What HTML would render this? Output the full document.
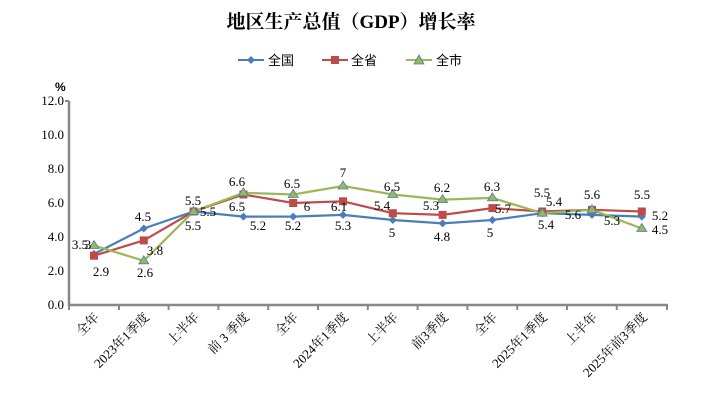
<!DOCTYPE html>
<html><head><meta charset="utf-8"><style>
html,body{margin:0;padding:0;background:#fff;}
svg{display:block;font-family:"Liberation Serif","Noto Serif CJK SC",serif;}
</style></head><body>
<svg width="702" height="409" viewBox="0 0 702 409" xmlns="http://www.w3.org/2000/svg">
<text x="351" y="28" text-anchor="middle" font-size="19" font-weight="bold" font-family="'Liberation Serif','Noto Serif CJK SC',serif">地区生产总值（GDP）增长率</text>
<g font-size="13" font-family="'Liberation Sans','Noto Sans CJK SC',sans-serif">
<line x1="238" y1="60" x2="264" y2="60" stroke="#4a7ebb" stroke-width="2"/><path d="M251 56 L255 60 L251 64 L247 60Z" fill="#4a7ebb"/>
<text x="268" y="65">全国</text>
<line x1="322" y1="60" x2="348" y2="60" stroke="#be4b48" stroke-width="2"/><rect x="331" y="56" width="8" height="8" fill="#be4b48"/>
<text x="351" y="65">全省</text>
<line x1="406" y1="60" x2="432" y2="60" stroke="#98b954" stroke-width="2"/><path d="M419 55 L424 64 L414 64Z" fill="#98b954" stroke="#4a7ebb" stroke-width="0.8"/>
<text x="436" y="65">全市</text>
</g>
<text x="55" y="91" font-size="12" font-weight="bold" font-family="'Liberation Sans',sans-serif">%</text>
<g stroke="#888" stroke-width="2.5">
<line x1="69" y1="101" x2="69" y2="306"/>
<line x1="68" y1="305" x2="668" y2="305"/>
</g>
<g stroke="#888" stroke-width="2">
<line x1="69" y1="305" x2="69" y2="310"/><line x1="119" y1="305" x2="119" y2="310"/><line x1="168.6" y1="305" x2="168.6" y2="310"/><line x1="218.4" y1="305" x2="218.4" y2="310"/><line x1="268.2" y1="305" x2="268.2" y2="310"/><line x1="318" y1="305" x2="318" y2="310"/><line x1="367.8" y1="305" x2="367.8" y2="310"/><line x1="417.6" y1="305" x2="417.6" y2="310"/><line x1="467.4" y1="305" x2="467.4" y2="310"/><line x1="517.2" y1="305" x2="517.2" y2="310"/><line x1="567" y1="305" x2="567" y2="310"/><line x1="616.8" y1="305" x2="616.8" y2="310"/><line x1="667" y1="305" x2="667" y2="310"/>
<line x1="65" y1="101" x2="69" y2="101"/>
</g>
<g font-size="13" text-anchor="end">
<text x="64" y="105">12.0</text><text x="64" y="139">10.0</text><text x="64" y="173">8.0</text><text x="64" y="207">6.0</text><text x="64" y="241">4.0</text><text x="64" y="275">2.0</text><text x="64" y="309">0.0</text>
</g>
<g font-size="13" text-anchor="end">
<text transform="translate(100,318) rotate(-45)">全年</text>
<text transform="translate(150,318) rotate(-45)">2023年1季度</text>
<text transform="translate(200,318) rotate(-45)">上半年</text>
<text transform="translate(250,318) rotate(-45)">前 3 季度</text>
<text transform="translate(299,318) rotate(-45)">全年</text>
<text transform="translate(349,318) rotate(-45)">2024年1季度</text>
<text transform="translate(399,318) rotate(-45)">上半年</text>
<text transform="translate(449,318) rotate(-45)">前3季度</text>
<text transform="translate(498,318) rotate(-45)">全年</text>
<text transform="translate(548,318) rotate(-45)">2025年1季度</text>
<text transform="translate(598,318) rotate(-45)">上半年</text>
<text transform="translate(648,318) rotate(-45)">2025年前3季度</text>
</g>
<polyline fill="none" stroke="#4a7ebb" stroke-width="2.2" points="94,254 143.8,228.5 193.6,211.5 243.4,216.6 293.2,216.6 343,214.9 392.8,220 442.6,223.4 492.4,220 542.2,213.2 592,214.9 641.8,216.6"/>
<polyline fill="none" stroke="#be4b48" stroke-width="2.2" points="94,255.7 143.8,240.4 193.6,211.5 243.4,194.5 293.2,203 343,201.3 392.8,213.2 442.6,214.9 492.4,208.1 542.2,211.5 592,209.8 641.8,211.5"/>
<polyline fill="none" stroke="#98b954" stroke-width="2.2" points="94,245.5 143.8,260.8 193.6,211.5 243.4,192.8 293.2,194.5 343,186 392.8,194.5 442.6,199.6 492.4,197.9 542.2,213.2 592,209.8 641.8,228.5"/>
<g fill="#4a7ebb">
<path d="M94 250l4 4-4 4-4-4z"/><path d="M143.8 224.5l4 4-4 4-4-4z"/><path d="M193.6 207.5l4 4-4 4-4-4z"/><path d="M243.4 212.6l4 4-4 4-4-4z"/><path d="M293.2 212.6l4 4-4 4-4-4z"/><path d="M343 210.9l4 4-4 4-4-4z"/><path d="M392.8 216l4 4-4 4-4-4z"/><path d="M442.6 219.4l4 4-4 4-4-4z"/><path d="M492.4 216l4 4-4 4-4-4z"/><path d="M542.2 209.2l4 4-4 4-4-4z"/><path d="M592 210.9l4 4-4 4-4-4z"/><path d="M641.8 212.6l4 4-4 4-4-4z"/>
</g>
<g fill="#be4b48">
<rect x="90" y="251.7" width="8" height="8"/><rect x="139.8" y="236.4" width="8" height="8"/><rect x="189.6" y="207.5" width="8" height="8"/><rect x="239.4" y="190.5" width="8" height="8"/><rect x="289.2" y="199" width="8" height="8"/><rect x="339" y="197.3" width="8" height="8"/><rect x="388.8" y="209.2" width="8" height="8"/><rect x="438.6" y="210.9" width="8" height="8"/><rect x="488.4" y="204.1" width="8" height="8"/><rect x="538.2" y="207.5" width="8" height="8"/><rect x="588" y="205.8" width="8" height="8"/><rect x="637.8" y="207.5" width="8" height="8"/>
</g>
<g fill="#98b954" stroke="#4a7ebb" stroke-width="0.8">
<path d="M94 240.5l5 8h-10z"/><path d="M143.8 255.8l5 8h-10z"/><path d="M193.6 206.5l5 8h-10z"/><path d="M243.4 187.8l5 8h-10z"/><path d="M293.2 189.5l5 8h-10z"/><path d="M343 181l5 8h-10z"/><path d="M392.8 189.5l5 8h-10z"/><path d="M442.6 194.6l5 8h-10z"/><path d="M492.4 192.9l5 8h-10z"/><path d="M542.2 208.2l5 8h-10z"/><path d="M592 204.8l5 8h-10z"/><path d="M641.8 223.5l5 8h-10z"/>
</g>
<g font-size="13" text-anchor="middle">
<text x="88" y="249">3</text>
<text x="143" y="221">4.5</text>
<text x="208" y="216">5.5</text>
<text x="258" y="230">5.2</text>
<text x="293" y="230">5.2</text>
<text x="343" y="230">5.3</text>
<text x="392" y="237">5</text>
<text x="442" y="241">4.8</text>
<text x="490" y="237">5</text>
<text x="546" y="229">5.4</text>
<text x="612" y="225">5.3</text>
<text x="660" y="220">5.2</text>
<text x="101" y="276">2.9</text>
<text x="155" y="255">3.8</text>
<text x="193" y="230">5.5</text>
<text x="237" y="211">6.5</text>
<text x="307" y="211">6</text>
<text x="339" y="211">6.1</text>
<text x="382" y="210">5.4</text>
<text x="431" y="210">5.3</text>
<text x="503" y="213">5.7</text>
<text x="542" y="197">5.5</text>
<text x="592" y="199">5.6</text>
<text x="642" y="199">5.5</text>
<text x="80" y="249">3.5</text>
<text x="145" y="277">2.6</text>
<text x="193" y="205">5.5</text>
<text x="237" y="186">6.6</text>
<text x="292" y="188">6.5</text>
<text x="343" y="177">7</text>
<text x="392" y="191">6.5</text>
<text x="442" y="192">6.2</text>
<text x="492" y="191">6.3</text>
<text x="554" y="206">5.4</text>
<text x="573" y="219">5.6</text>
<text x="660" y="234">4.5</text>
</g>
</svg>
</body></html>
